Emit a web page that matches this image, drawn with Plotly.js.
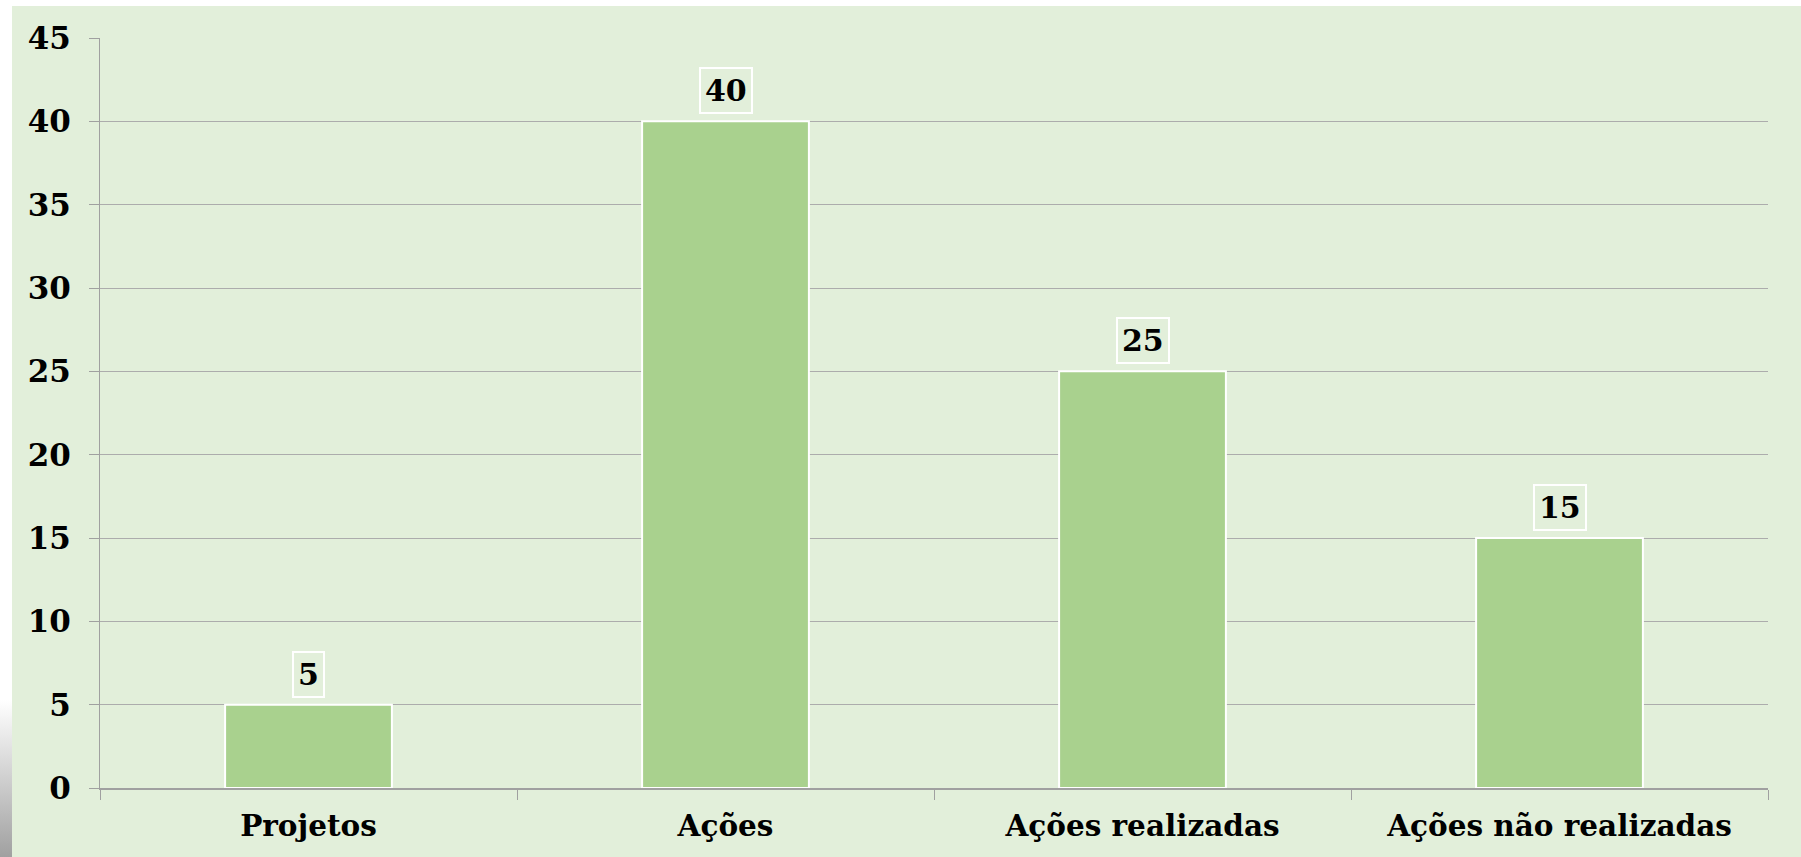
<!DOCTYPE html>
<html>
<head>
<meta charset="utf-8">
<script src="https://cdn.plot.ly/plotly-3.0.1.min.js"></script>
<style>
  html, body { margin: 0; padding: 0; background: #ffffff; width: 1801px; height: 857px; overflow: hidden; }
  #chart { position: absolute; left: 12px; top: 6px; width: 1789px; height: 851px; }
  #shade { position: absolute; left: 0; top: 700px; width: 12px; height: 157px;
           background: linear-gradient(to bottom, rgba(255,255,255,1) 0%, rgba(150,150,150,0.9) 100%); }
</style>
</head>
<body>
<div id="shade"></div>
<div id="chart"></div>
<script>
const categories = ["Projetos", "Ações", "Ações realizadas", "Ações não realizadas"];
const values = [5, 40, 25, 15];
const yTicks = [0, 5, 10, 15, 20, 25, 30, 35, 40, 45];

const serif = "DejaVu Serif, Bookman Old Style, serif";

const trace = {
  type: "bar",
  x: categories,
  y: values,
  marker: { color: "#a9d18e", line: { color: "#ffffff", width: 2 } },
  width: 0.4,
  hoverinfo: "x+y"
};

const annotations = categories.map((c, i) => ({
  x: c, y: values[i], xref: "x", yref: "y",
  text: String(values[i]),
  showarrow: false,
  yanchor: "bottom",
  yshift: 7,
  font: { family: serif, size: 30, color: "#000000", weight: "bold" },
  bordercolor: "#ffffff",
  borderwidth: 2,
  borderpad: 4
}));

const layout = {
  width: 1789,
  height: 851,
  paper_bgcolor: "#e2efda",
  plot_bgcolor: "#e2efda",
  margin: { l: 88, r: 33, t: 32, b: 69 },
  showlegend: false,
  xaxis: {
    type: "category",
    tickson: "boundaries",
    ticks: "outside",
    ticklen: 10,
    tickcolor: "#a0a0a0",
    tickwidth: 1,
    showline: true,
    linecolor: "#a0a0a0",
    linewidth: 2,
    showgrid: false,
    ticklabelstandoff: 11,
    tickfont: { family: serif, size: 29.5, color: "#000000", weight: "bold" }
  },
  yaxis: {
    range: [0, 45],
    tickvals: yTicks,
    ticks: "outside",
    ticklen: 10,
    tickcolor: "#a0a0a0",
    showline: true,
    linecolor: "#a0a0a0",
    linewidth: 1,
    showgrid: true,
    gridcolor: "#acacac",
    gridwidth: 1,
    zeroline: false,
    ticklabelstandoff: 12,
    tickfont: { family: serif, size: 31, color: "#000000", weight: "bold" }
  },
  annotations: annotations
};

Plotly.newPlot("chart", [trace], layout, { displayModeBar: false, staticPlot: true });
</script>
</body>
</html>
